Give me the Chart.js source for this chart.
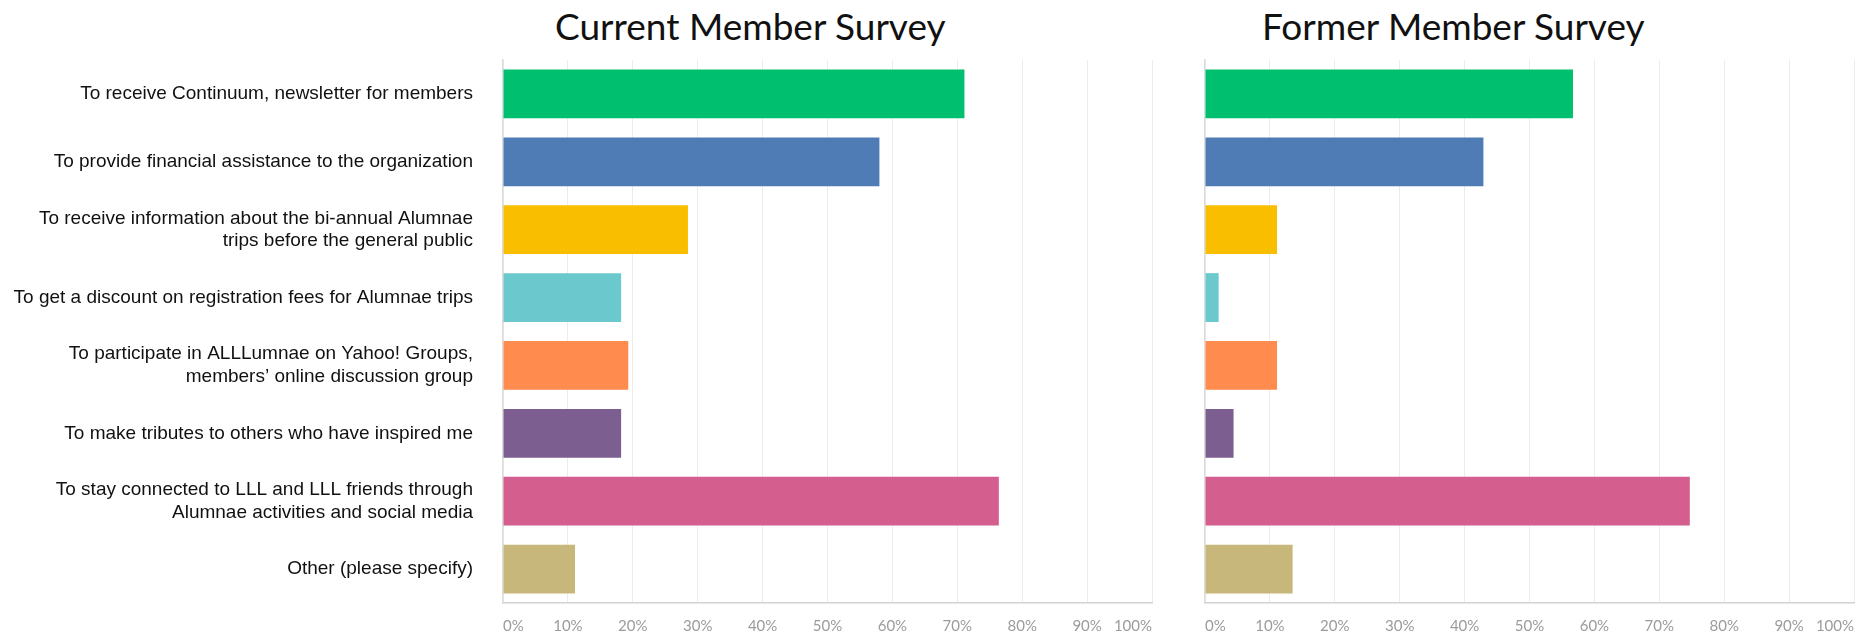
<!DOCTYPE html>
<html>
<head>
<meta charset="utf-8">
<script src="https://cdn.jsdelivr.net/npm/chart.js@4.4.1/dist/chart.umd.min.js"></script>
<style>
  body { margin: 0; background: #fff; width: 1863px; height: 634px; overflow: hidden; position: relative; }
  .title { position: absolute; top: 7px; font-family: Lato, sans-serif; font-size: 37px; line-height: 1; color: #111; white-space: nowrap; }
  #leftBox { position: absolute; left: 0; top: 0; }
  #rightBox { position: absolute; left: 1180px; top: 0; }
</style>
</head>
<body>
<div class="title" style="left:555px">Current Member Survey</div>
<div class="title" style="left:1262px">Former Member Survey</div>
<div id="leftBox"><canvas id="currentChart" width="1180" height="634"></canvas></div>
<div id="rightBox"><canvas id="formerChart" width="683" height="634"></canvas></div>
<script>
  // Answer options (y axis)
  const categories = [
    'To receive Continuum, newsletter for members',
    'To provide financial assistance to the organization',
    ['To receive information about the bi-annual Alumnae', 'trips before the general public'],
    'To get a discount on registration fees for Alumnae trips',
    ['To participate in ALLLumnae on Yahoo! Groups,', 'members\u2019 online discussion group'],
    'To make tributes to others who have inspired me',
    ['To stay connected to LLL and LLL friends through', 'Alumnae activities and social media'],
    'Other (please specify)'
  ];

  // Percent of respondents
  const currentValues = [71.1, 58.0, 28.5, 18.2, 19.3, 18.2, 76.4, 11.1];
  const formerValues = [56.7, 42.9, 11.1, 2.1, 11.1, 4.4, 74.7, 13.5];

  const barColors = ['#00bf6f', '#507cb6', '#f9be00', '#6bc8cd', '#ff8b4f', '#7d5e90', '#d45f8f', '#c8b77a'];

  // Percent tick values on the x axis
  const xTicks = [0, 10, 20, 30, 40, 50, 60, 70, 80, 90, 100];

  function makeOptions(showLabels, padLeft, padRight) {
    return {
      indexAxis: 'y',
      responsive: false,
      animation: false,
      layout: { padding: { top: 60, left: padLeft, right: padRight, bottom: 0 } },
      plugins: {
        legend: { display: false },
        tooltip: { enabled: false }
      },
      scales: {
        x: {
          min: 0,
          max: 100,
          afterBuildTicks: (scale) => { scale.ticks = xTicks.map(v => ({ value: v })); },
          afterFit: (scale) => {
            scale.height = 31;
            scale.paddingLeft = 0;
            scale.paddingRight = 0;
          },
          grid: { color: '#ececec', lineWidth: 1, drawTicks: false },
          border: { color: '#d2d2d2', width: 1.5 },
          ticks: {
            align: 'inner',
            padding: 14,
            color: '#9b9b9b',
            font: { family: 'Lato', size: 15 },
            callback: (v) => v + '%'
          }
        },
        y: {
          afterFit: (scale) => {
            scale.width = showLabels ? 503 : 0;
            scale.paddingTop = 0;
            scale.paddingBottom = 0;
          },
          grid: { display: false, drawTicks: false },
          border: { color: '#dcdcdc', width: 1.5 },
          ticks: {
            display: showLabels,
            padding: 30,
            color: '#111',
            font: { family: 'Liberation Sans', size: 19, lineHeight: 1.2 }
          }
        }
      }
    };
  }

  const currentChart = new Chart(document.getElementById('currentChart').getContext('2d'), {
    type: 'bar',
    data: {
      labels: categories,
      datasets: [{
        data: currentValues,
        backgroundColor: barColors,
        categoryPercentage: 1,
        barPercentage: 0.72
      }]
    },
    options: makeOptions(true, 0, 28)
  });

  const formerChart = new Chart(document.getElementById('formerChart').getContext('2d'), {
    type: 'bar',
    data: {
      labels: categories,
      datasets: [{
        data: formerValues,
        backgroundColor: barColors,
        categoryPercentage: 1,
        barPercentage: 0.72
      }]
    },
    options: makeOptions(false, 25, 9)
  });
</script>
</body>
</html>
